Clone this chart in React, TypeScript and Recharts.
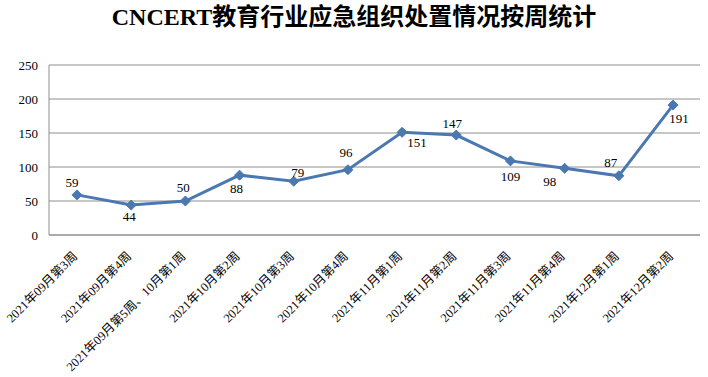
import React from 'react'
import { LineChart, Line, XAxis, YAxis, CartesianGrid } from 'recharts'

const weeks = [
  '2021年09月第3周',
  '2021年09月第4周',
  '2021年09月第5周、10月第1周',
  '2021年10月第2周',
  '2021年10月第3周',
  '2021年10月第4周',
  '2021年11月第1周',
  '2021年11月第2周',
  '2021年11月第3周',
  '2021年11月第4周',
  '2021年12月第1周',
  '2021年12月第2周',
]
const counts = [59, 44, 50, 88, 79, 96, 151, 147, 109, 98, 87, 191]
const yTicks = [0, 50, 100, 150, 200, 250]

// where each value label sits relative to its point (dx, dy)
const labelOffsets: [number, number][] = [
  [-5, -12], [-2, 11], [-2, -14], [-3, 13], [4, -9], [-2, -17],
  [15, 10], [-4, -12], [0, 16], [-15, 13], [-8, -13], [6, 13],
]

const data = weeks.map((w, i) => ({ week: w, count: counts[i] }))

const FONT = '"Liberation Serif", "Times New Roman", "Noto Sans CJK SC", serif'
const BLUE = '#4A78B0'
const GRID = '#8E8E8E'

const Diamond = ({ cx, cy }: any) => {
  if (cx == null || cy == null) return null
  const r = 5
  return (
    <path
      d={`M${cx},${cy - r}L${cx + r},${cy}L${cx},${cy + r}L${cx - r},${cy}Z`}
      fill={BLUE}
      stroke={BLUE}
    />
  )
}

const ValueLabel = ({ x, y, value, index }: any) => {
  const [dx, dy] = labelOffsets[index] || [0, -12]
  return (
    <text
      x={x + dx}
      y={y + dy}
      textAnchor="middle"
      dominantBaseline="central"
      fontSize={13}
      fontFamily={FONT}
      fill="#000"
    >
      {value}
    </text>
  )
}

const WeekTick = ({ x, y, payload }: any) => (
  <g transform={`translate(${x + 1},${y + 14})`}>
    <text
      transform="rotate(-45)"
      textAnchor="end"
      fontSize={12.5}
      fontFamily={FONT}
      fill="#000"
    >
      {payload.value}
    </text>
  </g>
)

export default function App() {
  return (
    <div style={{ position: 'absolute', left: 0, top: 0, width: 708, height: 377, background: '#fff' }}>
      <div
        style={{
          position: 'absolute',
          left: 0,
          top: 2,
          width: 708,
          textAlign: 'center',
          fontFamily: FONT,
          fontWeight: 'bold',
          fontSize: 24,
          lineHeight: '30px',
          color: '#000',
        }}
      >
        CNCERT教育行业应急组织处置情况按周统计
      </div>
      <LineChart width={708} height={377} data={data} margin={{ top: 65, right: 8, left: 0, bottom: 0 }}>
        <CartesianGrid vertical={false} stroke={GRID} />
        <XAxis
          dataKey="week"
          interval={0}
          height={142}
          padding={{ left: 28, right: 27 }}
          tickLine={false}
          axisLine={{ stroke: GRID }}
          tick={<WeekTick />}
        />
        <YAxis
          domain={[0, 250]}
          ticks={yTicks}
          width={49}
          tickLine={false}
          tickMargin={5}
          axisLine={{ stroke: GRID }}
          tick={{ fontSize: 13, fontFamily: FONT, fill: '#000' }}
        />
        <Line
          dataKey="count"
          stroke={BLUE}
          strokeWidth={3}
          dot={<Diamond />}
          activeDot={false}
          label={<ValueLabel />}
          isAnimationActive={false}
        />
      </LineChart>
    </div>
  )
}
